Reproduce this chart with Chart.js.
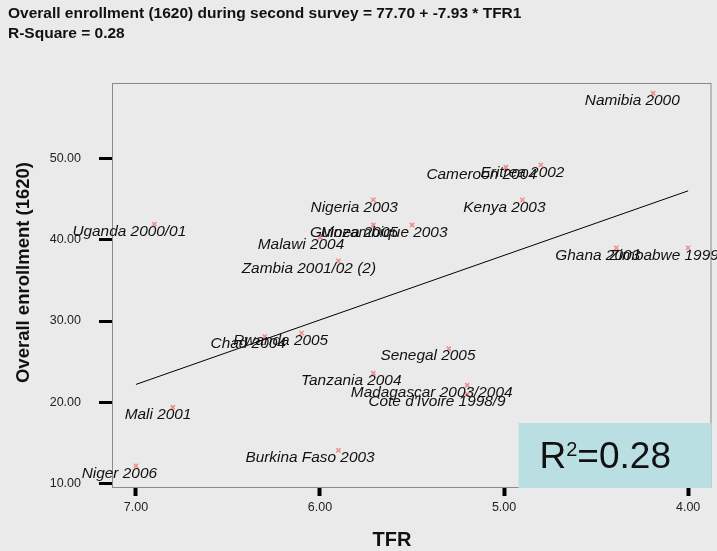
<!DOCTYPE html>
<html>
<head>
  <meta charset="UTF-8">
  <title>Enrollment vs TFR</title>
  <style>
    body { margin: 0; background: #eaeaea; }
    canvas { display: block; }
  </style>
</head>
<body>
  <canvas id="chart" width="717" height="551"></canvas>

  <script src="https://cdn.jsdelivr.net/npm/chart.js@4.4.0/dist/chart.umd.min.js"></script>
  <script>
    // survey labels and values
    const surveys = ['Namibia 2000', 'Eritrea 2002', 'Cameroon 2004', 'Kenya 2003', 'Nigeria 2003',
      'Guinea 2005', 'Mozambique 2003', 'Uganda 2000/01', 'Malawi 2004', 'Zambia 2001/02 (2)',
      'Ghana 2003', 'Zimbabwe 1999', 'Chad 2004', 'Rwanda 2005', 'Senegal 2005', 'Tanzania 2004',
      'Madagascar 2003/2004', "Cote d'Ivoire 1998/9", 'Mali 2001', 'Burkina Faso 2003', 'Niger 2006'];
    const tfr = [4.19, 4.80, 4.99, 4.90, 5.71, 5.71, 5.50, 6.90, 6.00, 5.90,
      4.39, 4.00, 6.30, 6.10, 5.30, 5.71, 5.20, 5.20, 6.80, 5.90, 7.00];
    const enrollment = [58.0, 49.2, 48.9, 44.9, 44.9, 41.8, 41.8, 41.9, 40.3, 37.4,
      39.0, 39.0, 28.1, 28.5, 26.6, 23.6, 22.1, 21.0, 19.4, 14.1, 12.2];

    // fitted line ends (TFR 7 -> 4)
    const fitTfr = [7.0, 4.0];
    const fitEnrollment = [22.2, 46.0];

    const xTicks = [4, 5, 6, 7];
    const yTicks = [10, 20, 30, 40, 50];

    const titleLines = ['Overall enrollment (1620) during second survey = 77.70 + -7.93 * TFR1', 'R-Square = 0.28'];
    const rSquare = '0.28';

    const deco = {
      id: 'deco',
      beforeDraw(chart) {
        const { ctx, chartArea: a } = chart;
        ctx.save();
        ctx.fillStyle = '#eaeaea';
        ctx.fillRect(0, 0, chart.width, chart.height);
        ctx.strokeStyle = '#8a8a8a';
        ctx.lineWidth = 1;
        ctx.strokeRect(a.left + 0.5, a.top + 0.5, a.right - a.left - 1, a.bottom - a.top - 1);
        ctx.restore();
      },
      afterDatasetsDraw(chart) {
        // point labels, marker sits at ~72% of the label width
        const { ctx } = chart;
        const meta = chart.getDatasetMeta(0);
        ctx.save();
        ctx.font = 'italic 15.4px "Liberation Sans", Arial, sans-serif';
        ctx.fillStyle = '#111';
        ctx.textBaseline = 'middle';
        ctx.textAlign = 'left';
        meta.data.forEach((pt, i) => {
          const w = ctx.measureText(surveys[i]).width;
          ctx.fillText(surveys[i], pt.x - 0.72 * w, pt.y + 7.5);
        });
        ctx.restore();
      },
      afterDraw(chart) {
        const { ctx, chartArea: a } = chart;
        ctx.save();
        // titles
        ctx.fillStyle = '#111';
        ctx.font = 'bold 15.5px "Liberation Sans", Arial, sans-serif';
        ctx.textBaseline = 'middle';
        ctx.textAlign = 'left';
        ctx.fillText(titleLines[0], 8, 14);
        ctx.fillText(titleLines[1], 8, 33.5);

        ctx.font = 'bold 20px "Liberation Sans", Arial, sans-serif';
        ctx.textAlign = 'center';
        ctx.fillText('TFR', 392, 540.5);

        ctx.save();
        ctx.translate(24, 272.5);
        ctx.rotate(-Math.PI / 2);
        ctx.font = 'bold 18.5px "Liberation Sans", Arial, sans-serif';
        ctx.fillText('Overall enrollment (1620)', 0, 0);
        ctx.restore();

        // R square box in bottom right of the plot
        const bx = a.right - 193, by = a.bottom - 65;
        ctx.fillStyle = '#badfe3';
        ctx.fillRect(bx, by, 193, 65);
        ctx.fillStyle = '#111';
        ctx.textAlign = 'left';
        ctx.textBaseline = 'alphabetic';
        ctx.font = '37px "Liberation Sans", Arial, sans-serif';
        let tx = bx + 21;
        const base = by + 45;
        ctx.fillText('R', tx, base);
        tx += ctx.measureText('R').width;
        ctx.font = '20px "Liberation Sans", Arial, sans-serif';
        ctx.fillText('2', tx, base - 12);
        tx += ctx.measureText('2').width;
        ctx.font = '37px "Liberation Sans", Arial, sans-serif';
        ctx.fillText('=' + rSquare, tx, base);
        ctx.restore();
      }
    };

    const points = tfr.map((v, i) => ({ x: v, y: enrollment[i] }));
    const fitLine = fitTfr.map((v, i) => ({ x: v, y: fitEnrollment[i] }));

    new Chart(document.getElementById('chart'), {
      type: 'scatter',
      data: {
        datasets: [
          {
            data: points,
            pointStyle: 'crossRot',
            pointRadius: 3,
            borderWidth: 1.5,
            borderColor: '#f08c8c',
            backgroundColor: '#f08c8c'
          },
          {
            type: 'line',
            data: fitLine,
            borderColor: '#000',
            borderWidth: 1,
            pointRadius: 0,
            fill: false
          }
        ]
      },
      options: {
        responsive: false,
        animation: false,
        layout: { padding: { top: 83, right: 5, left: 0, bottom: 0 } },
        plugins: { legend: { display: false }, tooltip: { enabled: false } },
        scales: {
          x: {
            type: 'linear',
            reverse: true,
            min: 3.873,
            max: 7.13,
            afterBuildTicks: s => { s.ticks = xTicks.map(v => ({ value: v })); },
            afterFit: s => { s.height = 63; },
            border: { display: false },
            grid: { drawOnChartArea: false, tickLength: 8, tickWidth: 4, tickColor: '#000' },
            ticks: {
              padding: 4,
              color: '#222',
              font: { family: '"Liberation Sans", Arial, sans-serif', size: 12.5 },
              callback: v => v.toFixed(2)
            }
          },
          y: {
            min: 9.47,
            max: 59.26,
            afterBuildTicks: s => { s.ticks = yTicks.map(v => ({ value: v })); },
            afterFit: s => { s.width = 112; },
            border: { display: false },
            grid: { drawOnChartArea: false, tickLength: 13, tickWidth: 3, tickColor: '#000' },
            ticks: {
              padding: 18,
              color: '#222',
              font: { family: '"Liberation Sans", Arial, sans-serif', size: 12.5 },
              callback: v => v.toFixed(2)
            }
          }
        }
      },
      plugins: [deco]
    });
  </script>
</body>
</html>
